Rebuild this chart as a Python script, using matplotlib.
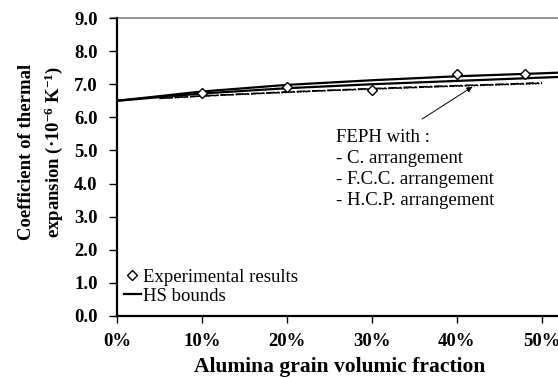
import matplotlib
matplotlib.use("Agg")
import matplotlib.pyplot as plt
from matplotlib.ticker import FuncFormatter, MultipleLocator

# Dilatation thermique vs fraction volumique d'alumine
exp_frac = [0.10, 0.20, 0.30, 0.40, 0.48]
exp_cte = [6.73, 6.91, 6.82, 7.32, 7.32]

hs_frac = [0.0, 0.10, 0.20, 0.30, 0.40, 0.50, 0.52]
hs_upper = [6.50, 6.78, 6.98, 7.12, 7.24, 7.33, 7.35]
hs_lower = [6.50, 6.72, 6.88, 7.00, 7.10, 7.20, 7.22]

feph_frac = [0.05, 0.10, 0.15, 0.20, 0.25, 0.30, 0.35, 0.40, 0.45, 0.50]
feph_c = [6.58, 6.65, 6.71, 6.77, 6.82, 6.87, 6.92, 6.96, 7.00, 7.05]
feph_fcc = [6.57, 6.64, 6.70, 6.76, 6.81, 6.86, 6.90, 6.95, 6.99, 7.03]
feph_hcp = [6.57, 6.64, 6.70, 6.75, 6.81, 6.85, 6.90, 6.94, 6.98, 7.02]

plt.rcParams["font.family"] = ["Liberation Serif", "DejaVu Serif"]
plt.rcParams["mathtext.fontset"] = "custom"
plt.rcParams["mathtext.rm"] = "Liberation Serif"
plt.rcParams["mathtext.bf"] = "Liberation Serif:bold"
plt.rcParams["mathtext.default"] = "bf"

fig = plt.figure(figsize=(5.58, 3.78), dpi=100)
W, H = 558, 378
ax = fig.add_axes([117 / W, 1 - 316 / H, (W - 117) / W, (316 - 18) / H])

ax.plot(hs_frac, hs_upper, "-", color="black", lw=1.6, zorder=3)
ax.plot(hs_frac, hs_lower, "-", color="black", lw=1.6, zorder=3, label="HS bounds")
ax.plot(feph_frac, feph_c, color="black", lw=1.0, ls=(0, (6, 2, 1, 2)), zorder=2)
ax.plot(feph_frac, feph_fcc, color="black", lw=1.0, ls=(0, (4, 1.5)), zorder=2)
ax.plot(feph_frac, feph_hcp, color="black", lw=1.0, ls=(0, (1, 1.2)), zorder=2)
ax.plot(exp_frac, exp_cte, "D", ms=5, mfc="white", mec="black", mew=1.0,
        ls="none", zorder=4, label="Experimental results")

ax.annotate("", xy=(0.418, 6.92), xytext=(0.359, 5.95),
            arrowprops=dict(arrowstyle="-|>", color="black", lw=0.7,
                            mutation_scale=8, shrinkA=0, shrinkB=0))
ax.text(0.2576, 5.66, "FEPH with :\n- C. arrangement\n- F.C.C. arrangement\n"
        "- H.C.P. arrangement", fontsize=13.5, va="top", ha="left",
        linespacing=1.32, transform=ax.transData)

ax.set_xlim(0, (W - 117) / 850)
ax.set_ylim(0, 9.0)
ax.xaxis.set_major_locator(MultipleLocator(0.1))
ax.yaxis.set_major_locator(MultipleLocator(1.0))
ax.xaxis.set_major_formatter(FuncFormatter(lambda v, p: f"{v * 100:.0f}%"))
ax.yaxis.set_major_formatter(FuncFormatter(lambda v, p: f"{v:.1f}"))
for lab in ax.get_xticklabels() + ax.get_yticklabels():
    lab.set_fontweight("bold")
ax.tick_params(axis="both", labelsize=13.5, direction="out", width=1.0,
               colors="black")
ax.tick_params(axis="x", length=5, pad=7)
ax.tick_params(axis="y", length=6, pad=8)

for s in ("top", "right"):
    ax.spines[s].set_visible(False)
for s in ("left", "bottom"):
    ax.spines[s].set_linewidth(1.6)
    ax.spines[s].set_color("black")
ax.axhline(9.0, xmin=-6 / 441, xmax=1, color="#808080", lw=1.2,
           clip_on=False, zorder=1)

ax.set_xlabel("Alumina grain volumic fraction", fontsize=15.5, fontweight="bold")
ax.xaxis.set_label_coords((339.5 - 117) / 441, -(357 - 316) / 298)
ax.set_ylabel("Coefficient of thermal\nexpansion (\u00b710$^{-6}$ K$^{-1}$)",
              fontsize=13.5, fontweight="bold", linespacing=1.45)
ax.yaxis.set_label_coords(-(117 - 65) / 441, (316 - 152) / 298)

h, l = ax.get_legend_handles_labels()
ax.legend(h[::-1], l[::-1], loc="lower left", bbox_to_anchor=(-0.01, 0.0),
          frameon=False, fontsize=13.5, handlelength=0.9, handletextpad=0.1,
          labelspacing=0.1, borderaxespad=0.2)

fig.savefig("out.png", dpi=100, facecolor="white")
